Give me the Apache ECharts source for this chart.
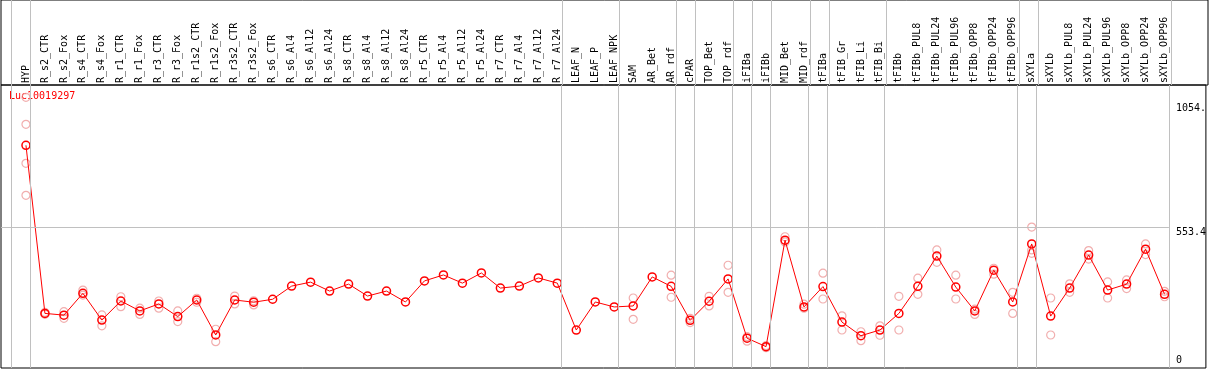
<!DOCTYPE html>
<html>
<head>
<meta charset="utf-8">
<script src="https://cdn.jsdelivr.net/npm/echarts@6/dist/echarts.min.js"></script>
<style>
  html, body { margin: 0; padding: 0; background: #fff; }
  #chart { width: 1209px; height: 370px; }
</style>
</head>
<body>
<div id="chart"></div>
<script>
const seriesName = 'Luc10019297';

const categories = [
  'HYP',
  'R_s2_CTR', 'R_s2_Fox', 'R_s4_CTR', 'R_s4_Fox', 'R_r1_CTR', 'R_r1_Fox', 'R_r3_CTR', 'R_r3_Fox',
  'R_r1s2_CTR', 'R_r1s2_Fox', 'R_r3s2_CTR', 'R_r3s2_Fox',
  'R_s6_CTR', 'R_s6_Al4', 'R_s6_Al12', 'R_s6_Al24', 'R_s8_CTR', 'R_s8_Al4', 'R_s8_Al12', 'R_s8_Al24',
  'R_r5_CTR', 'R_r5_Al4', 'R_r5_Al12', 'R_r5_Al24', 'R_r7_CTR', 'R_r7_Al4', 'R_r7_Al12', 'R_r7_Al24',
  'LEAF_N', 'LEAF_P', 'LEAF_NPK',
  'SAM', 'AR_Bet', 'AR_rdf',
  'cPAR',
  'TOP_Bet', 'TOP_rdf',
  'iFIBa',
  'iFIBb',
  'MID_Bet', 'MID_rdf',
  'tFIBa',
  'tFIB_Gr', 'tFIB_Li', 'tFIB_Bi',
  'tFIBb', 'tFIBb_PUL8', 'tFIBb_PUL24', 'tFIBb_PUL96', 'tFIBb_OPP8', 'tFIBb_OPP24', 'tFIBb_OPP96',
  'sXYLa',
  'sXYLb', 'sXYLb_PUL8', 'sXYLb_PUL24', 'sXYLb_PUL96', 'sXYLb_OPP8', 'sXYLb_OPP24', 'sXYLb_OPP96'
];

// number of categories in each sample group (gray separators between them)
const groupSizes = [1, 28, 3, 3, 1, 2, 1, 1, 2, 1, 3, 7, 1, 7];

const meanValues = [
  885.5,
  208, 201, 289, 181, 258, 218, 246, 195,
  262, 121, 262, 253,
  265, 318, 334, 298, 326, 278, 298, 254,
  339, 363, 330, 371, 310, 318, 351, 330,
  141, 254, 234,
  238, 355, 317,
  180,
  257, 347,
  108,
  74,
  503, 234,
  316,
  173, 118, 141,
  208, 317, 439, 314, 218, 382, 254,
  488,
  197, 310, 443, 302, 326, 467, 285
];

const replicateValues = [
  [1079, 970, 813, 684],
  [205, 212], [215, 188], [302, 282], [202, 158], [275, 235], [229, 204], [258, 229], [218, 175],
  [269, 253], [144, 94], [278, 246], [259, 242],
  [], [], [], [], [], [], [], [],
  [], [], [], [], [], [], [], [],
  [], [], [],
  [270, 184], [], [362, 273],
  [188, 171],
  [277, 238], [402, 293],
  [114, 96],
  [78, 70],
  [517, 496], [245, 229],
  [370, 266],
  [198, 141], [134, 98], [158, 120],
  [277, 141], [350, 285], [464, 414], [362, 266], [225, 204], [390, 366], [293, 208],
  [556, 464, 450],
  [270, 121], [327, 293], [461, 427], [335, 270], [343, 308], [488, 445], [297, 275]
];

const yTickValues = [553.4, 1054];
const yTickLabels = ['553.4', '1054.'];
const yZeroValue = [0];
const yZeroLabel = ['0'];
const gridLineValue = 553.4;

const xMin = -1.3151, xMax = 62.179;
const yMin = -12.1, yMax = 1128.6;
const sepOffset = 0.231;

let meanData = meanValues.map((v, i) => [i, v]);
let repData = [];
replicateValues.forEach((reps, i) => reps.forEach(v => repData.push([i, v])));

let separators = [-1 + sepOffset];
let acc = 0;
groupSizes.forEach(n => { acc += n; separators.push(acc - 1 + sepOffset); });
let lastSep = separators[separators.length - 1];

const font = 'DejaVu Sans Mono';
const sepLine = {
  silent: true,
  symbol: ['none', 'none'],
  label: { show: false },
  lineStyle: { color: '#c0c0c0', width: 1, type: 'solid' }
};

let myChart = echarts.init(document.getElementById('chart'));
myChart.setOption({
  animation: false,
  backgroundColor: '#fff',
  title: {
    text: seriesName,
    left: 9, top: 91,
    padding: 0,
    z: 1,
    textStyle: { color: '#ff0000', fontSize: 10, fontWeight: 'normal', fontFamily: font }
  },
  grid: [
    // plot area
    { left: 1, right: 1, top: 85, bottom: 2, show: true, borderColor: '#000', borderWidth: 1, backgroundColor: 'rgba(0,0,0,0)' },
    // label strip above it
    { left: 1, right: 1, top: 0, height: 85, show: true, borderColor: '#000', borderWidth: 1, backgroundColor: 'rgba(0,0,0,0)' }
  ],
  xAxis: [
    {
      type: 'value', gridIndex: 0, position: 'top',
      min: xMin, max: xMax,
      axisLine: { show: false, onZero: false },
      axisTick: { show: false },
      splitLine: { show: false },
      axisLabel: {
        customValues: categories.map((c, i) => i),
        formatter: v => categories[v] || '',
        rotate: -90,
        margin: 2,
        color: '#000',
        fontSize: 10,
        fontFamily: font
      }
    },
    {
      type: 'value', gridIndex: 1, min: xMin, max: xMax, show: false
    }
  ],
  yAxis: [
    {
      type: 'value', gridIndex: 0, position: 'right', min: yMin, max: yMax,
      axisLine: { show: false }, axisTick: { show: false }, splitLine: { show: false },
      axisLabel: {
        customValues: yTickValues,
        formatter: v => yTickLabels[yTickValues.indexOf(v)],
        inside: true, align: 'left', verticalAlign: 'top', margin: 30,
        color: '#000', fontSize: 10, fontFamily: font
      }
    },
    {
      type: 'value', gridIndex: 0, position: 'right', min: yMin, max: yMax,
      axisLine: { show: false }, axisTick: { show: false }, splitLine: { show: false },
      axisLabel: {
        customValues: yZeroValue,
        formatter: v => yZeroLabel[0],
        inside: true, align: 'left', verticalAlign: 'bottom', margin: 30,
        color: '#000', fontSize: 10, fontFamily: font
      }
    },
    {
      type: 'value', gridIndex: 1, min: 0, max: 1, show: false
    }
  ],
  series: [
    {
      type: 'scatter',
      name: 'replicates',
      xAxisIndex: 0, yAxisIndex: 0,
      data: repData,
      symbol: 'circle',
      symbolSize: 8,
      itemStyle: { color: 'rgba(0,0,0,0)', borderColor: '#ee9a9a', borderWidth: 1.2 },
      z: 2,
      silent: true,
      markLine: Object.assign({}, sepLine, {
        data: separators.map(x => ({ xAxis: x })).concat([
          [{ coord: [xMin, gridLineValue] }, { coord: [lastSep, gridLineValue] }]
        ])
      })
    },
    {
      type: 'line',
      name: 'separators',
      xAxisIndex: 1, yAxisIndex: 2,
      data: [],
      silent: true,
      markLine: Object.assign({}, sepLine, {
        data: separators.map(x => ({ xAxis: x }))
      })
    },
    {
      type: 'line',
      name: seriesName,
      xAxisIndex: 0, yAxisIndex: 0,
      data: meanData,
      symbol: 'circle',
      symbolSize: 8,
      showAllSymbol: true,
      lineStyle: { color: '#ff0000', width: 1 },
      itemStyle: { color: 'rgba(0,0,0,0)', borderColor: '#ff0000', borderWidth: 1.5 },
      z: 3,
      silent: true
    }
  ]
});
</script>
</body>
</html>
